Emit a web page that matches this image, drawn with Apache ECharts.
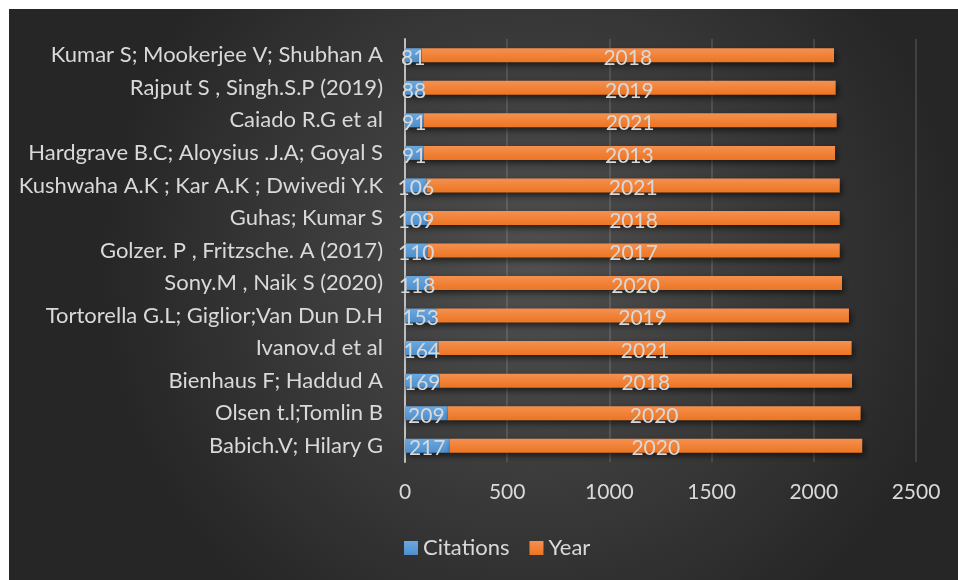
<!DOCTYPE html>
<html><head><meta charset="utf-8">
<script src="https://cdn.jsdelivr.net/npm/echarts@6/dist/echarts.min.js"></script>
<style>html,body{margin:0;padding:0;background:#fff;}#c{position:absolute;left:9px;top:9px;width:949px;height:571px;}</style>
</head><body><div id="c"></div>
<script>
const categories = ["Kumar S; Mookerjee V; Shubhan A","Rajput S , Singh.S.P (2019)","Caiado R.G et al","Hardgrave B.C; Aloysius .J.A; Goyal S","Kushwaha A.K ; Kar A.K ; Dwivedi Y.K","Guhas; Kumar S","Golzer. P , Fritzsche. A (2017)","Sony.M , Naik S (2020)","Tortorella G.L; Giglior;Van Dun D.H","Ivanov.d et al","Bienhaus F; Haddud A","Olsen t.l;Tomlin B","Babich.V; Hilary G"];
const citations = [81,88,91,91,106,109,110,118,153,164,169,209,217];
const years = [2018,2019,2021,2013,2021,2018,2017,2020,2019,2021,2018,2020,2020];
const xTicks = [0,500,1000,1500,2000,2500];

const chart = echarts.init(document.getElementById('c'));
const FONT = 'Lato';
const txt = '#d9d9d9';
const shadow = {shadowBlur:6, shadowColor:'rgba(0,0,0,0.6)', shadowOffsetX:2, shadowOffsetY:3};
chart.setOption({
  animation:false,
  textStyle:{fontFamily:FONT},
  graphic:[{type:'rect', z:-10, silent:true, shape:{x:0,y:0,width:949,height:571},
    style:{fill:new echarts.graphic.RadialGradient(0.55,0.45,0.75,[{offset:0,color:'#505050'},{offset:1,color:'#262626'}])}}],
  grid:{left:396,right:42,top:30,bottom:118,containLabel:false},
  legend:{left:390,top:523,itemWidth:14,itemHeight:14,itemGap:20,icon:'rect',
    textStyle:{color:txt,fontSize:22,fontFamily:FONT},data:['Citations','Year']},
  xAxis:{type:'value',min:xTicks[0],max:xTicks[xTicks.length-1],interval:500,
    axisLine:{show:false},axisTick:{show:false},
    axisLabel:{color:txt,fontSize:21,margin:20,fontFamily:FONT,formatter:v=>String(v)},
    splitLine:{lineStyle:{color:'rgba(255,255,255,0.12)',width:2}}},
  yAxis:{type:'category',data:categories,inverse:true,
    axisLine:{show:true,lineStyle:{color:'#bfbfbf',width:2}},axisTick:{show:false},
    axisLabel:{color:txt,fontSize:22,margin:22,fontFamily:FONT}},
  series:[
    {name:'Citations',type:'bar',stack:'a',barWidth:14,data:citations,
      itemStyle:Object.assign({color:new echarts.graphic.LinearGradient(0,0,0,1,[{offset:0,color:'#6aa8e0'},{offset:1,color:'#4f8fcc'}])},shadow),
      label:{show:true,position:'inside',color:txt,fontSize:21,fontFamily:FONT,offset:[0,3]}},
    {name:'Year',type:'bar',stack:'a',barWidth:14,data:years,
      itemStyle:Object.assign({color:new echarts.graphic.LinearGradient(0,0,0,1,[{offset:0,color:'#f5904f'},{offset:1,color:'#ec7522'}])},shadow),
      label:{show:true,position:'inside',color:txt,fontSize:21,fontFamily:FONT,offset:[0,3]}}
  ],
  color:['#5b9bd5','#ed7d31']
});
</script></body></html>
